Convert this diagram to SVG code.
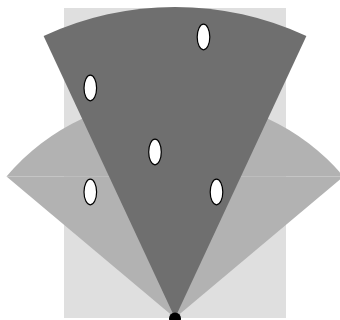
<svg xmlns="http://www.w3.org/2000/svg" width="340" height="320" viewBox="0 0 340 320">
  <style>
    .light { fill: #b2b2b2; }
    .dark { fill: #6f6f6f; }
    .pt { fill: #ffffff; stroke: #000000; stroke-width: 1.2; }
  </style>
  <rect width="340" height="320" fill="#ffffff"/>
  <g id="area">
    <rect x="64" y="8" width="222" height="310" fill="#dfdfdf"/>
  </g>
  <g id="wide-sector">
    <path class="light" d="M175,318 L6.5,176.6 L343.5,176.6 Z"/>
    <path class="light" d="M6.5,176.6 A220,220 0 0 1 343.5,176.6 Z"/>
  </g>
  <g id="narrow-sector">
    <path class="dark" d="M175,318 L43.6,36.1 A311,311 0 0 1 306.4,36.1 Z"/>
  </g>
  <g id="points">
    <ellipse id="p1" class="pt" cx="203.5" cy="37" rx="6.3" ry="12.8"/>
    <ellipse id="p2" class="pt" cx="90.3" cy="88" rx="6.3" ry="12.8"/>
    <ellipse id="p3" class="pt" cx="155" cy="152" rx="6.3" ry="12.8"/>
    <ellipse id="p4" class="pt" cx="90.3" cy="192" rx="6.3" ry="12.8"/>
    <ellipse id="p5" class="pt" cx="216.5" cy="192" rx="6.3" ry="12.8"/>
  </g>
  <g id="origin">
    <circle cx="175" cy="318.5" r="6" fill="#000000"/>
  </g>
  <g id="connectors"/>
</svg>
